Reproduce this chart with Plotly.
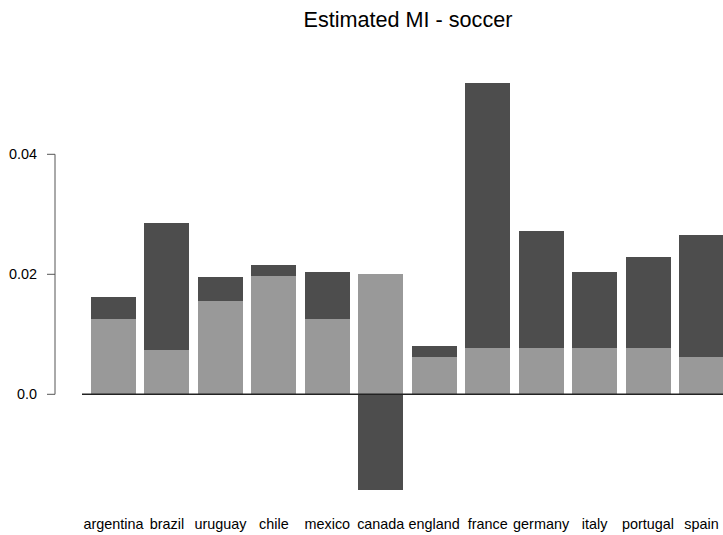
import plotly.graph_objects as go

# Estimated mutual information per national team
teams = ["argentina", "brazil", "uruguay", "chile", "mexico", "canada",
         "england", "france", "germany", "italy", "portugal", "spain"]
mi_total = [0.0162, 0.0286, 0.0196, 0.0216, 0.0204, -0.0160,
            0.0080, 0.0519, 0.0272, 0.0204, 0.0229, 0.0266]
mi_part = [0.0126, 0.0074, 0.0155, 0.0197, 0.0126, 0.0200,
           0.0062, 0.0077, 0.0077, 0.0077, 0.0077, 0.0062]
y_ticks = [0.0, 0.02, 0.04]
y_tick_text = ["0.0", "0.02", "0.04"]

W, H = 723, 535
DARK = "#4d4d4d"
LIGHT = "#999999"
FONT = "Liberation Sans, Arial, sans-serif"
TXT = 14.4

idx = list(range(len(teams)))

fig = go.Figure()
fig.add_trace(go.Bar(x=idx, y=mi_total, width=0.842, marker=dict(color=DARK, line=dict(width=0)),
                     showlegend=False, hoverinfo="skip"))
fig.add_trace(go.Bar(x=idx, y=mi_part, width=0.842, marker=dict(color=LIGHT, line=dict(width=0)),
                     showlegend=False, hoverinfo="skip"))

# y axis drawn R-style: line only across the tick range, ticks pointing left
ax_x = 55 / W
tick_x = 47 / W
shapes = [dict(type="line", xref="paper", yref="y", x0=ax_x, x1=ax_x,
               y0=min(y_ticks), y1=max(y_ticks), line=dict(color="#555555", width=1))]
annotations = []
for v, t in zip(y_ticks, y_tick_text):
    shapes.append(dict(type="line", xref="paper", yref="y", x0=tick_x, x1=ax_x,
                       y0=v, y1=v, line=dict(color="#555555", width=1)))
    annotations.append(dict(text=t, xref="paper", yref="y", x=38.5 / W, y=v,
                            xanchor="right", yanchor="middle", showarrow=False,
                            font=dict(family=FONT, size=TXT, color="#000000")))

# baseline at zero
shapes.append(dict(type="line", xref="paper", yref="y", x0=82 / W, x1=1, y0=0, y1=0,
                   line=dict(color="#222222", width=1.5), layer="above"))

fig.update_layout(
    width=W, height=H,
    margin=dict(l=0, r=0, t=0, b=29, pad=0),
    paper_bgcolor="white", plot_bgcolor="white",
    barmode="overlay", bargap=0,
    title=dict(text="Estimated MI - soccer", x=408 / W, xanchor="center",
               yref="container", y=1 - 19 / H, yanchor="middle",
               font=dict(family=FONT, size=21.6, color="#000000")),
    xaxis=dict(range=[-2.1235, 11.403], tickmode="array", tickvals=idx, ticktext=teams,
               showgrid=False, zeroline=False, showline=False,
               ticks="outside", ticklen=5, tickcolor="rgba(0,0,0,0)",
               tickfont=dict(family=FONT, size=TXT, color="#000000")),
    yaxis=dict(range=[-0.018617, 0.06572], showgrid=False, zeroline=False,
               showline=False, showticklabels=False, ticks=""),
    shapes=shapes,
    annotations=annotations,
)

fig.write_html("out.html")
